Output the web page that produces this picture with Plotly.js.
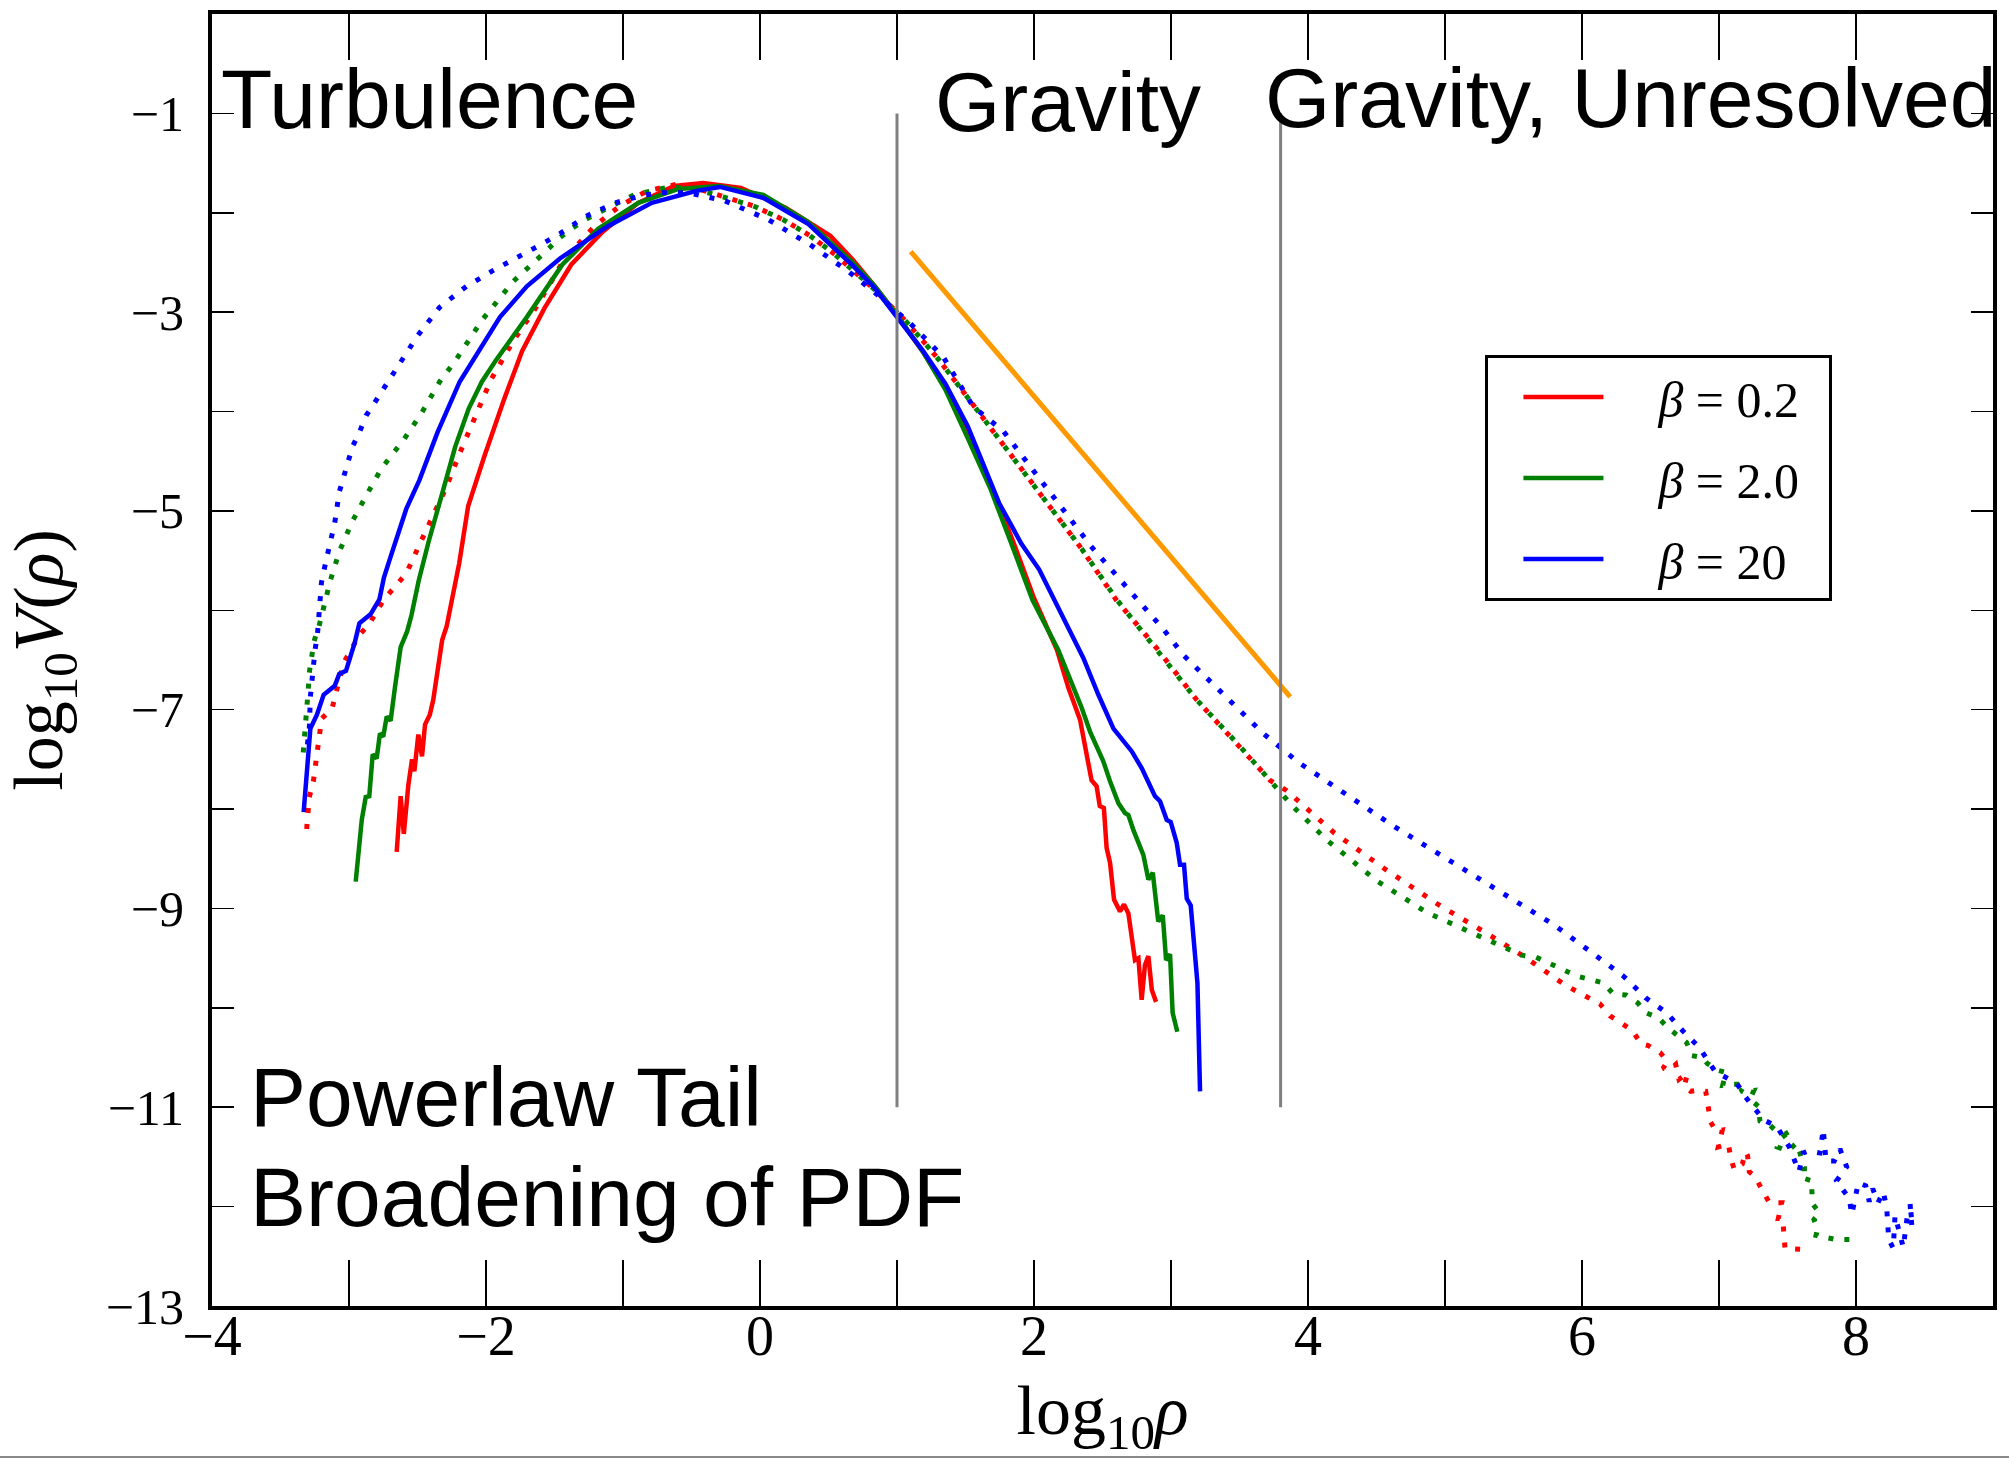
<!DOCTYPE html>
<html>
<head>
<meta charset="utf-8">
<script src="https://cdn.plot.ly/plotly-3.0.1.min.js"></script>
<style>
html, body { margin: 0; padding: 0; background: #fff; }
#chart { width: 2009px; height: 1460px; }
</style>
</head>
<body>
<div id="chart"></div>
<script>
// ---------------- data (log10 rho, log10 V(rho)) ----------------
const NB = '\u00A0';
const seriesNames = ['<i>β</i> = 0.2', '<i>β</i> = 2.0', '<i>β</i> = 20'];
const seriesColors = ['#ff0000', '#008000', '#0000ff'];

// beta = 0.2, solid
const b02SolidX = [-2.652, -2.623, -2.600, -2.567, -2.540, -2.523, -2.494, -2.467, -2.445, -2.410, -2.385, -2.360, -2.320, -2.287, -2.250, -2.196, -2.130, -2.012, -1.866, -1.736, -1.573, -1.377, -1.148, -0.888, -0.627, -0.414, -0.139, 0.187, 0.513, 0.676, 0.839, 1.000, 1.190, 1.353, 1.517, 1.680, 1.843, 1.995, 2.168, 2.251, 2.336, 2.420, 2.457, 2.480, 2.510, 2.530, 2.555, 2.584, 2.628, 2.657, 2.689, 2.737, 2.762, 2.786, 2.810, 2.835, 2.860, 2.891];
const b02SolidY = [-8.43, -7.87, -8.25, -7.76, -7.50, -7.62, -7.25, -7.47, -7.15, -7.05, -6.90, -6.67, -6.30, -6.16, -5.90, -5.53, -4.95, -4.45, -3.87, -3.39, -2.96, -2.52, -2.19, -1.90, -1.73, -1.70, -1.75, -1.95, -2.23, -2.47, -2.74, -3.03, -3.40, -3.76, -4.22, -4.72, -5.29, -5.86, -6.40, -6.78, -7.10, -7.71, -7.77, -7.97, -7.99, -8.39, -8.54, -8.91, -9.03, -8.96, -9.05, -9.52, -9.50, -9.92, -9.57, -9.48, -9.82, -9.94];

// beta = 2.0, solid
const b2SolidX = [-2.951, -2.907, -2.878, -2.852, -2.827, -2.798, -2.774, -2.750, -2.725, -2.696, -2.664, -2.623, -2.575, -2.544, -2.491, -2.419, -2.321, -2.224, -2.126, -2.030, -1.930, -1.702, -1.442, -1.181, -0.888, -0.595, -0.302, 0.024, 0.350, 0.676, 0.839, 1.000, 1.190, 1.353, 1.517, 1.680, 1.835, 1.990, 2.177, 2.348, 2.409, 2.506, 2.555, 2.616, 2.664, 2.689, 2.725, 2.798, 2.835, 2.867, 2.907, 2.940, 2.964, 2.993, 3.012, 3.046];
const b2SolidY = [-8.73, -8.11, -7.88, -7.87, -7.45, -7.49, -7.24, -7.27, -7.07, -7.11, -6.77, -6.37, -6.21, -6.05, -5.70, -5.31, -4.83, -4.35, -3.97, -3.70, -3.49, -3.05, -2.52, -2.16, -1.90, -1.76, -1.73, -1.82, -2.09, -2.50, -2.74, -3.03, -3.40, -3.78, -4.27, -4.77, -5.33, -5.90, -6.40, -6.98, -7.22, -7.52, -7.72, -7.94, -8.04, -8.06, -8.21, -8.46, -8.71, -8.64, -9.13, -9.07, -9.52, -9.46, -10.05, -10.24];

// beta = 20, solid
const b20SolidX = [-3.331, -3.282, -3.234, -3.185, -3.104, -3.071, -3.022, -2.957, -2.924, -2.843, -2.778, -2.745, -2.696, -2.582, -2.486, -2.354, -2.192, -2.029, -1.898, -1.702, -1.460, -1.117, -0.790, -0.464, -0.292, 0.024, 0.350, 0.676, 0.839, 1.000, 1.190, 1.353, 1.517, 1.745, 1.908, 2.038, 2.160, 2.263, 2.360, 2.470, 2.580, 2.714, 2.787, 2.883, 2.920, 2.969, 2.998, 3.042, 3.066, 3.095, 3.115, 3.144, 3.168, 3.193, 3.212];
const b20SolidY = [-8.03, -7.19, -7.05, -6.85, -6.76, -6.64, -6.61, -6.32, -6.13, -6.04, -5.89, -5.67, -5.46, -4.98, -4.69, -4.21, -3.70, -3.34, -3.05, -2.74, -2.46, -2.14, -1.90, -1.78, -1.74, -1.85, -2.11, -2.53, -2.76, -3.05, -3.39, -3.72, -4.15, -4.92, -5.33, -5.59, -5.93, -6.23, -6.48, -6.85, -7.19, -7.42, -7.59, -7.87, -7.92, -8.11, -8.13, -8.34, -8.56, -8.56, -8.90, -8.97, -9.38, -9.75, -10.84];

// beta = 0.2, dotted
const b02DotX = [-3.309, -3.290, -3.260, -3.243, -3.230, -3.216, -3.200, -3.124, -3.097, -3.040, -2.925, -2.854, -2.745, -2.582, -2.486, -2.387, -2.289, -2.192, -2.094, -1.964, -1.801, -1.638, -1.442, -1.364, -1.204, -1.022, -0.823, -0.597, -0.450, -0.270, -0.050, 0.170, 0.365, 0.547, 0.730, 0.827, 1.077, 1.289, 1.500, 1.712, 1.924, 2.136, 2.347, 2.603, 2.895, 3.187, 3.504, 3.723, 3.840, 4.192, 4.569, 4.950, 5.340, 5.595, 5.876, 6.131, 6.204, 6.297, 6.370, 6.428, 6.484, 6.571, 6.622, 6.591, 6.652, 6.684, 6.708, 6.771, 6.745, 6.793, 6.842, 6.903, 6.917, 6.939, 6.978, 7.024, 6.995, 7.068, 7.088, 7.112, 7.170, 7.195, 7.209, 7.221, 7.263, 7.367, 7.458, 7.433, 7.465, 7.472, 7.482, 7.596];
const b02DotY = [-8.20, -7.88, -7.72, -7.56, -7.40, -7.25, -7.09, -6.99, -6.84, -6.53, -6.25, -6.14, -5.89, -5.63, -5.34, -5.05, -4.76, -4.42, -4.09, -3.68, -3.29, -2.96, -2.50, -2.37, -2.13, -1.93, -1.78, -1.71, -1.76, -1.84, -1.93, -2.07, -2.23, -2.42, -2.64, -2.76, -3.11, -3.45, -3.83, -4.22, -4.60, -4.98, -5.38, -5.90, -6.38, -6.90, -7.37, -7.71, -7.81, -8.24, -8.61, -8.96, -9.28, -9.50, -9.77, -9.96, -10.08, -10.16, -10.23, -10.36, -10.38, -10.45, -10.54, -10.61, -10.61, -10.57, -10.72, -10.66, -10.79, -10.84, -10.83, -10.84, -10.99, -11.15, -11.24, -11.23, -11.40, -11.37, -11.52, -11.63, -11.57, -11.45, -11.49, -11.65, -11.70, -11.96, -11.96, -12.12, -12.12, -12.28, -12.42, -12.43];

// beta = 2.0, dotted
const b2DotX = [-3.334, -3.323, -3.314, -3.304, -3.297, -3.290, -3.277, -3.255, -3.219, -3.192, -3.136, -3.071, -2.974, -2.860, -2.762, -2.599, -2.468, -2.338, -2.224, -2.029, -1.801, -1.573, -1.460, -1.375, -1.277, -1.181, -0.920, -0.660, -0.450, -0.270, -0.050, 0.170, 0.365, 0.547, 0.730, 0.827, 1.077, 1.289, 1.500, 1.712, 1.924, 2.136, 2.347, 2.608, 2.895, 3.187, 3.504, 3.723, 3.888, 4.136, 4.500, 4.866, 5.268, 5.560, 5.664, 5.961, 6.156, 6.229, 6.321, 6.407, 6.467, 6.557, 6.635, 6.696, 6.764, 6.801, 6.878, 6.915, 6.995, 7.051, 7.027, 7.105, 7.190, 7.158, 7.255, 7.226, 7.287, 7.299, 7.343, 7.372, 7.409, 7.482, 7.531, 7.445, 7.426, 7.501, 7.567, 7.591, 7.620, 7.659, 7.664, 7.635, 7.677, 7.682, 7.732, 7.693, 7.720, 7.708, 7.849, 7.927, 8.029];
const b2DotY = [-7.43, -7.27, -7.11, -6.95, -6.79, -6.63, -6.47, -6.31, -6.16, -6.00, -5.70, -5.41, -5.10, -4.81, -4.57, -4.28, -4.01, -3.70, -3.49, -3.08, -2.69, -2.40, -2.25, -2.16, -2.07, -2.00, -1.82, -1.74, -1.77, -1.84, -1.93, -2.07, -2.23, -2.42, -2.64, -2.76, -3.11, -3.45, -3.83, -4.22, -4.60, -4.98, -5.38, -5.90, -6.40, -6.90, -7.37, -7.71, -7.97, -8.31, -8.72, -9.04, -9.29, -9.47, -9.49, -9.68, -9.75, -9.86, -9.87, -9.95, -10.05, -10.10, -10.21, -10.28, -10.35, -10.48, -10.50, -10.56, -10.63, -10.65, -10.78, -10.77, -10.77, -10.84, -10.83, -10.92, -10.99, -11.14, -11.18, -11.18, -11.23, -11.27, -11.23, -11.32, -11.40, -11.44, -11.36, -11.46, -11.62, -11.62, -11.66, -11.78, -11.81, -11.97, -12.06, -12.13, -12.22, -12.29, -12.33, -12.33, -12.33];

// beta = 20, dotted
const b20DotX = [-3.304, -3.290, -3.282, -3.272, -3.260, -3.248, -3.230, -3.219, -3.209, -3.201, -3.169, -3.136, -3.104, -3.071, -3.040, -3.007, -2.974, -2.924, -2.875, -2.817, -2.745, -2.631, -2.501, -2.338, -2.142, -1.947, -1.768, -1.573, -1.460, -1.277, -1.058, -0.840, -0.657, -0.489, -0.255, 0.061, 0.365, 0.645, 0.827, 1.095, 1.337, 1.556, 1.778, 1.990, 2.200, 2.413, 2.640, 2.950, 3.090, 3.419, 3.674, 3.930, 4.234, 4.623, 5.012, 5.414, 5.790, 6.058, 6.302, 6.465, 6.618, 6.735, 6.857, 6.971, 7.130, 7.195, 7.270, 7.328, 7.421, 7.513, 7.584, 7.615, 7.654, 7.737, 7.761, 7.781, 7.842, 7.883, 7.932, 7.858, 7.951, 7.969, 8.017, 8.071, 8.097, 8.122, 8.161, 8.199, 8.224, 8.229, 8.239, 8.272, 8.285, 8.345, 8.358, 8.375, 8.406, 8.394, 8.413];
const b20DotY = [-7.35, -7.20, -6.87, -6.71, -6.55, -6.40, -6.24, -6.08, -5.92, -5.72, -5.51, -5.29, -5.12, -4.81, -4.66, -4.50, -4.35, -4.21, -4.04, -3.92, -3.77, -3.51, -3.24, -2.95, -2.74, -2.58, -2.45, -2.30, -2.21, -2.04, -1.90, -1.82, -1.79, -1.81, -1.88, -2.07, -2.32, -2.59, -2.79, -3.11, -3.45, -3.95, -4.20, -4.59, -4.96, -5.35, -5.71, -6.20, -6.45, -6.90, -7.24, -7.53, -7.81, -8.17, -8.50, -8.84, -9.16, -9.43, -9.68, -9.90, -10.05, -10.23, -10.40, -10.64, -10.76, -10.90, -11.03, -11.13, -11.19, -11.40, -11.65, -11.46, -11.44, -11.46, -11.22, -11.54, -11.54, -11.42, -11.60, -11.74, -11.92, -12.08, -11.76, -11.79, -11.95, -11.82, -11.96, -11.85, -12.01, -12.17, -12.33, -12.42, -12.09, -12.41, -12.25, -12.09, -12.13, -11.96, -12.29];

// power-law guide line and regime boundaries
const guideX = [1.10, 3.87];
const guideY = [-2.39, -6.87];
const boundaryX = [1.0, 3.8];
const boundaryYSpan = [-1, -11];

// region labels
const labelTexts = ['Turbulence', 'Gravity', 'Gravity, Unresolved', 'Powerlaw Tail', 'Broadening of PDF'];
const labelX = [-3.95, 1.26, 3.67, -3.74, -3.74];
const labelY = [-0.86, -0.89, -0.85, -10.90, -11.90];

// tick values
const xTickVals = [-4, -2, 0, 2, 4, 6, 8];
const yTickVals = [-1, -3, -5, -7, -9, -11, -13];

// ---------------- traces ----------------
const solids = [[b02SolidX, b02SolidY], [b2SolidX, b2SolidY], [b20SolidX, b20SolidY]];
const dots = [[b02DotX, b02DotY], [b2DotX, b2DotY], [b20DotX, b20DotY]];
const traces = [];
for (let i = 0; i < 3; i++) {
  traces.push({
    x: solids[i][0], y: solids[i][1], type: 'scatter', mode: 'lines',
    name: NB + NB + NB + NB + seriesNames[i] + NB + NB, legendgroup: 'g' + i,
    line: { color: seriesColors[i], width: 4.5 }
  });
  traces.push({
    x: dots[i][0], y: dots[i][1], type: 'scatter', mode: 'lines',
    showlegend: false, legendgroup: 'g' + i,
    line: { color: seriesColors[i], width: 5, dash: '5px,11px' }
  });
}
traces.push({
  x: guideX, y: guideY, type: 'scatter', mode: 'lines', showlegend: false,
  line: { color: '#ff9900', width: 5 }
});
boundaryX.forEach(function (bx) {
  traces.push({
    x: [bx, bx], y: boundaryYSpan, type: 'scatter', mode: 'lines', showlegend: false,
    line: { color: '#808080', width: 3 }
  });
});

const annFont = { family: 'Liberation Sans, Arial, sans-serif', size: 84, color: '#000' };
const annotations = labelTexts.map(function (t, i) {
  return { x: labelX[i], y: labelY[i], xref: 'x', yref: 'y', text: t, showarrow: false,
           xanchor: 'left', yanchor: 'middle', font: annFont };
});

const serif = 'Liberation Serif, Times New Roman, serif';

const layout = {
  width: 2009, height: 1460,
  margin: { l: 212, r: 16, t: 14, b: 154, pad: 0 },
  paper_bgcolor: '#fff', plot_bgcolor: '#fff',
  showlegend: true,
  legend: {
    x: 0.715, y: 0.736, xanchor: 'left', yanchor: 'top',
    bgcolor: '#fff', bordercolor: '#000', borderwidth: 3,
    font: { family: serif, size: 50, color: '#000' },
    itemwidth: 80, tracegroupgap: 13, indentation: 30
  },
  xaxis: {
    range: [-4, 9], tickmode: 'array', tickvals: xTickVals,
    ticks: 'inside', ticklen: 46, tickwidth: 1.5, tickcolor: '#000',
    showline: true, linewidth: 4, linecolor: '#000', mirror: 'allticks',
    showgrid: false, zeroline: false,
    tickfont: { family: serif, size: 56, color: '#000' },
    ticklabelstandoff: -22,
    minor: { dtick: 1, tick0: -4, ticks: 'inside', ticklen: 46, tickwidth: 1.5, tickcolor: '#000', showgrid: false },
    title: { text: 'log<sub>10</sub><i>ρ</i>', font: { family: serif, size: 70, color: '#000' }, standoff: 44 }
  },
  yaxis: {
    range: [-13, 0], tickmode: 'array', tickvals: yTickVals,
    ticks: 'inside', ticklen: 22, tickwidth: 1.5, tickcolor: '#000',
    showline: true, linewidth: 4, linecolor: '#000', mirror: 'allticks',
    showgrid: false, zeroline: false,
    tickfont: { family: serif, size: 50, color: '#000' },
    ticklabelstandoff: 14,
    minor: { dtick: 1, tick0: -13, ticks: 'inside', ticklen: 22, tickwidth: 1.5, tickcolor: '#000', showgrid: false },
    title: { text: 'log<sub>10</sub><i>V</i>(<i>ρ</i>)', font: { family: serif, size: 70, color: '#000' }, standoff: 40 }
  },
  annotations: annotations,
  shapes: [{
    type: 'line', xref: 'paper', yref: 'paper', x0: -0.2, x1: 1.2, y0: -0.1169, y1: -0.1169,
    line: { color: '#888888', width: 2 }
  }]
};

Plotly.newPlot('chart', traces, layout, { staticPlot: true, displayModeBar: false });
</script>
</body>
</html>
